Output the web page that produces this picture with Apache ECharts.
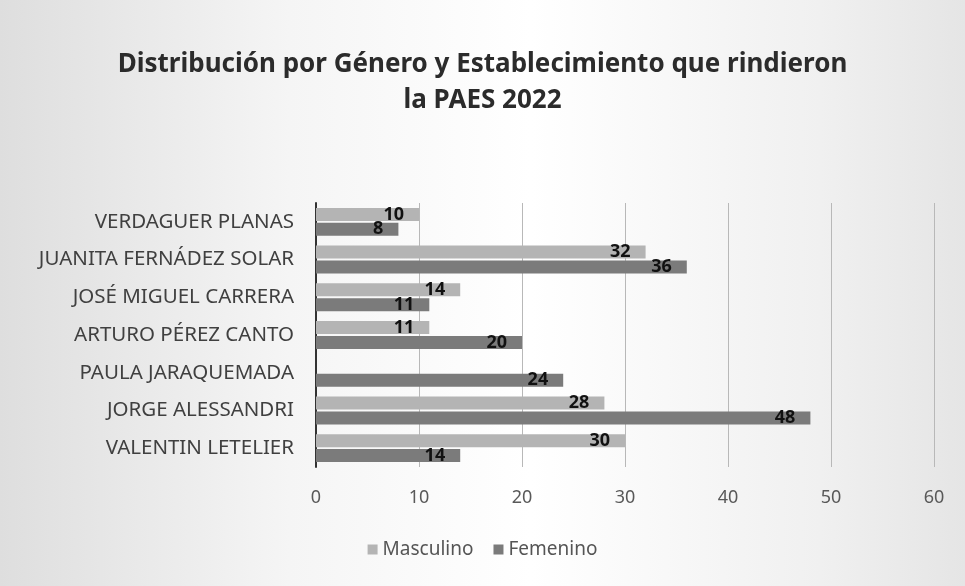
<!DOCTYPE html>
<html>
<head>
<meta charset="utf-8">
<script src="https://cdn.jsdelivr.net/npm/echarts@6/dist/echarts.min.js"></script>
<style>
    html, body { margin: 0; padding: 0; }
    #chart { width: 965px; height: 586px; }
</style>
</head>
<body>
<div id="chart"></div>
<script>
    // colegios, de arriba hacia abajo en el gráfico
    var colegios = ['VERDAGUER PLANAS', 'JUANITA FERNÁDEZ SOLAR', 'JOSÉ MIGUEL CARRERA',
        'ARTURO PÉREZ CANTO', 'PAULA JARAQUEMADA', 'JORGE ALESSANDRI', 'VALENTIN LETELIER'];
    var masculino = [10, 32, 14, 11, null, 28, 30];
    var femenino = [8, 36, 11, 20, 24, 48, 14];
    var ejeX = [0, 10, 20, 30, 40, 50, 60];

    var myChart = echarts.init(document.getElementById('chart'));
    var etiqueta = {
        show: true,
        position: 'insideRight',
        distance: 15,
        color: '#111',
        fontWeight: 'bold',
        fontSize: 18,
        fontFamily: 'Noto Sans'
    };
    var option = {
        backgroundColor: {
            type: 'linear', x: 0, y: 0, x2: 1, y2: 0,
            colorStops: [
                {offset: 0, color: '#dedede'},
                {offset: 0.3, color: '#f5f5f5'},
                {offset: 0.55, color: '#ffffff'},
                {offset: 0.85, color: '#f0f0f0'},
                {offset: 1, color: '#e5e5e5'}
            ]
        },
        textStyle: { fontFamily: 'Noto Sans' },
        title: {
            text: 'Distribución por Género y Establecimiento que rindieron\nla PAES 2022',
            left: 'center',
            top: 42,
            textStyle: {
                fontSize: 26,
                fontWeight: 'bold',
                color: '#2b2b2b',
                lineHeight: 36
            }
        },
        legend: {
            bottom: 22,
            left: 'center',
            itemWidth: 10,
            itemHeight: 10,
            itemGap: 20,
            icon: 'rect',
            textStyle: { fontSize: 19, color: '#555' },
            data: ['Masculino', 'Femenino']
        },
        grid: {
            left: 316,
            right: 31,
            top: 203,
            bottom: 119
        },
        xAxis: {
            type: 'value',
            min: ejeX[0],
            max: ejeX[ejeX.length - 1],
            interval: 10,
            axisLine: { show: false },
            axisTick: { show: false },
            axisLabel: { color: '#595959', fontSize: 18, margin: 22 },
            splitLine: { lineStyle: { color: '#b8b8b8', width: 1 } }
        },
        yAxis: {
            type: 'category',
            inverse: true,
            data: colegios,
            axisLine: { lineStyle: { color: '#333', width: 2 } },
            axisTick: { show: false },
            axisLabel: { color: '#404040', fontSize: 20.5, margin: 22 }
        },
        series: [
            {
                name: 'Masculino',
                type: 'bar',
                data: masculino,
                barWidth: 13,
                barGap: '15%',
                itemStyle: { color: '#b4b4b4' },
                label: etiqueta
            },
            {
                name: 'Femenino',
                type: 'bar',
                data: femenino,
                barWidth: 13,
                itemStyle: { color: '#7b7b7b' },
                label: etiqueta
            }
        ]
    };
    myChart.setOption(option);
</script>
</body>
</html>
